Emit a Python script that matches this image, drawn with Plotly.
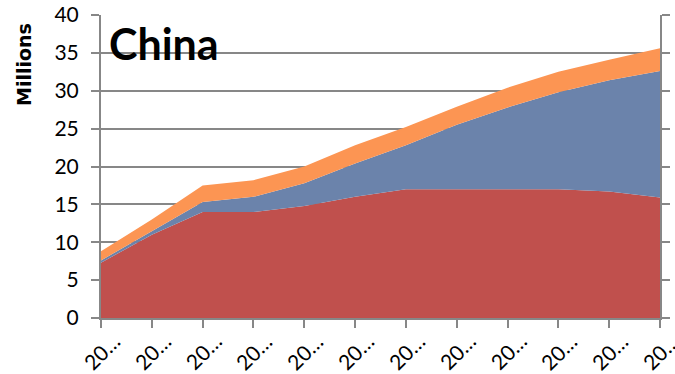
import plotly.graph_objects as go

# Categories (years, shown truncated on the axis)
years = [2000, 2005, 2010, 2015, 2020, 2025, 2030, 2035, 2040, 2045, 2050, 2055]
tick_labels = [str(y)[:2] + "\u2026" for y in years]

# Stacked series, millions
series_red = [7.3, 11.0, 14.0, 14.0, 14.8, 16.0, 17.0, 17.0, 17.0, 17.0, 16.7, 15.9]
series_blue = [0.3, 0.5, 1.3, 2.0, 3.0, 4.4, 5.8, 8.5, 10.8, 12.8, 14.7, 16.7]
series_orange = [1.2, 1.5, 2.2, 2.2, 2.2, 2.4, 2.4, 2.4, 2.6, 2.7, 2.7, 3.0]

y_ticks = [0, 5, 10, 15, 20, 25, 30, 35, 40]

FONT = "Lato"
GRID = "#878787"

fig = go.Figure()
for vals, color in [(series_red, "#C0504D"), (series_blue, "#6B83AB"), (series_orange, "#FC9553")]:
    fig.add_trace(go.Scatter(
        x=years, y=vals, mode="lines", stackgroup="one",
        line=dict(width=0, color=color), fillcolor=color,
        hoverinfo="skip", showlegend=False,
    ))

# Invisible trace carrying the right-hand axis
fig.add_trace(go.Scatter(x=[years[0]], y=[0], yaxis="y2", mode="markers",
                         marker=dict(opacity=0), showlegend=False, hoverinfo="skip"))

fig.update_layout(
    width=675, height=374,
    margin=dict(l=101, r=15, t=15, b=56),
    paper_bgcolor="white", plot_bgcolor="white",
    font=dict(family=FONT, color="black"),
    xaxis=dict(
        range=[years[0], years[-1]], tickvals=years, showticklabels=False,
        ticks="outside", ticklen=8, tickwidth=2, tickcolor=GRID, automargin=False,
        showline=True, linecolor=GRID, linewidth=2, showgrid=False, zeroline=False,
    ),
    yaxis=dict(
        range=[0, 40], tickvals=y_ticks, ticks="outside", ticklen=8, tickwidth=2,
        tickcolor=GRID, showline=True, linecolor=GRID, linewidth=2, automargin=False,
        showgrid=True, gridcolor=GRID, gridwidth=2, zeroline=False,
        tickfont=dict(family=FONT, size=21, color="black"), ticklabelstandoff=8,
    ),
    yaxis2=dict(
        range=[0, 40], tickvals=y_ticks, overlaying="y", side="right",
        ticks="outside", ticklen=8, tickwidth=2, tickcolor=GRID, automargin=False,
        showline=True, linecolor=GRID, linewidth=2, showgrid=False,
        showticklabels=False, zeroline=False,
    ),
)

# Rotated category labels
for yr, lab in zip(years, tick_labels):
    fig.add_annotation(x=yr, xref="x", y=0, yref="paper", yshift=-33,
                       xanchor="center", yanchor="middle", borderpad=0,
                       text=lab, textangle=-45, showarrow=False,
                       font=dict(family=FONT, size=21, color="black"))

fig.add_annotation(x=0, xref="paper", y=1, yref="paper", xshift=6, yshift=-1,
                   xanchor="left", yanchor="top", text="<b>China</b>", showarrow=False,
                   font=dict(family=FONT, size=43, color="black"))

fig.add_annotation(x=0, xref="paper", y=1, yref="paper", xshift=-77, yshift=-50,
                   xanchor="center", yanchor="middle",
                   text="<b>Millions</b>", textangle=-90, showarrow=False,
                   font=dict(family="DejaVu Sans", size=19, color="black"))

fig.write_html("out.html")
